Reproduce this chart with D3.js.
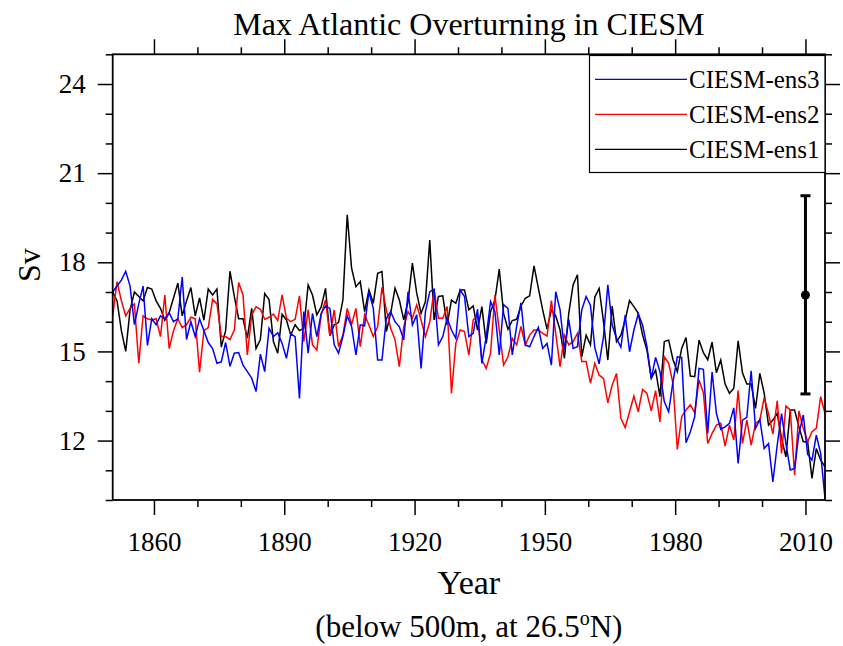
<!DOCTYPE html>
<html>
<head>
<meta charset="utf-8">
<script src="https://cdn.jsdelivr.net/npm/d3@7"></script>
<style>
  html, body { margin: 0; padding: 0; background: #fff; }
  svg { display: block; font-family: "Liberation Serif", "DejaVu Serif", serif; }
</style>
</head>
<body>
<svg id="chart" width="843" height="646"></svg>
<script>
// ---------------- data ----------------
const startYear = 1850;
const endYear = 2014;
const seriesNames = ["CIESM-ens1", "CIESM-ens2", "CIESM-ens3"];
const seriesColors = ["#000000", "#ff0000", "#0000ff"];

const ens1 = [
  17.0, 16.7, 15.7, 15.0, 16.4, 17.0, 16.85, 16.7, 17.15, 17.1,
  16.7, 16.45, 16.05, 16.3, 16.8, 17.3, 16.2, 16.7, 17.15, 16.2,
  16.8, 16.05, 17.1, 16.9, 17.1, 15.15, 15.7, 17.7, 16.85, 16.1,
  16.1, 15.45, 16.45, 15.1, 15.4, 16.95, 16.75, 15.33, 14.94, 16.25,
  16.06, 15.55, 15.9, 15.7, 15.78, 17.24, 16.9, 16.23, 16.5, 17.12,
  15.52, 15.9, 15.97, 16.73, 19.6, 17.8, 17.18, 17.35, 16.34, 17.07,
  16.62, 17.63, 17.69, 15.67, 16.28, 17.13, 16.73, 16.06, 16.68, 17.97,
  16.96, 16.28, 16.68, 18.75, 16.06, 16.85, 16.87, 15.89, 16.73, 16.62,
  17.07, 17.07, 16.4, 16.53, 15.72, 16.51, 15.27, 16.34, 16.73, 17.77,
  16.28, 15.75, 16.04, 16.08, 16.53, 16.79, 16.87, 17.88, 17.13, 16.4,
  15.75, 16.4, 16.2, 15.72, 14.77, 16.28, 17.24, 17.58, 14.82, 15.55,
  15.22, 16.83, 17.12, 16.0, 14.71, 16.53, 15.33, 15.55, 16.06, 16.71,
  16.51, 16.28, 15.55, 15.05, 14.09, 14.37, 13.48, 15.33, 15.38, 14.73,
  14.32, 15.1, 15.47, 14.17, 14.15, 15.38, 14.96, 14.72, 15.31, 14.28,
  14.71, 13.9, 13.59, 13.76, 15.36, 14.28, 13.9, 13.9, 13.08, 14.26,
  13.59, 12.52, 12.69, 12.91, 12.07, 11.45, 13.03, 13.03, 12.46, 11.96,
  11.96, 10.73, 11.73, 11.34, 11.12
];
const ens2 = [
  16.2, 17.35, 16.7, 16.2, 16.45, 16.6, 14.6, 16.2, 16.1, 16.06,
  16.1, 15.5, 16.9, 15.1, 15.7, 16.1, 15.8, 15.9, 16.15, 16.1,
  14.3, 15.7, 15.8, 16.75, 16.6, 15.5, 15.5, 15.4, 15.72, 17.32,
  16.9, 14.88, 16.23, 16.5, 16.42, 16.08, 16.15, 16.26, 16.04, 16.9,
  16.12, 16.0, 16.08, 16.87, 15.33, 16.4, 15.22, 15.05, 16.23, 16.73,
  15.52, 16.4, 15.16, 15.55, 16.45, 15.9, 16.45, 15.16, 16.23, 15.89,
  15.5, 15.83, 17.16, 16.4, 15.78, 15.39, 14.49, 15.83, 16.34, 16.12,
  16.57, 16.06, 15.5, 16.0, 17.07, 16.12, 16.12, 16.51, 13.59, 15.27,
  15.72, 15.67, 14.88, 16.06, 16.2, 14.71, 14.43, 14.94, 16.9, 15.72,
  14.54, 14.82, 15.44, 15.22, 15.84, 15.22, 15.55, 15.72, 15.72, 15.61,
  15.52, 16.71, 15.61, 14.49, 15.55, 15.22, 15.33, 15.61, 14.66, 14.66,
  13.93, 14.6, 14.2, 14.09, 13.27, 13.87, 14.26, 12.75, 12.44, 12.97,
  13.5, 12.97, 13.72, 13.59, 13.0, 13.68, 12.63, 14.82, 14.6, 13.92,
  11.7, 12.8, 13.03, 13.2, 12.94, 14.04, 13.61, 11.9, 12.24, 12.52,
  12.58, 11.81, 12.52, 12.02, 13.68, 11.9, 12.69, 11.85, 12.58, 12.69,
  13.45, 12.9, 12.22, 13.34, 11.57, 13.16, 13.03, 10.84, 13.0, 12.41,
  11.96, 12.3, 12.41, 13.48, 12.91
];
const ens3 = [
  17.0, 17.2, 17.4, 17.7, 17.2, 15.9, 16.6, 17.2, 15.2, 16.1,
  15.9, 16.2, 16.1, 16.3, 16.0, 16.1, 17.5, 15.4, 16.0, 15.5,
  16.1, 15.7, 15.3, 15.1, 14.6, 14.65, 15.3, 14.5, 14.94, 14.96,
  14.54, 14.32, 14.1, 13.65, 14.91, 14.32, 15.78, 15.5, 15.63, 15.27,
  14.77, 15.59, 15.5, 13.42, 16.34, 14.94, 16.28, 15.5, 16.28, 16.53,
  16.45, 15.22, 14.94, 15.5, 16.2, 15.84, 14.88, 15.89, 15.86, 17.01,
  16.45, 14.71, 14.71, 16.12, 16.34, 16.0, 15.83, 15.39, 17.01, 15.89,
  16.23, 14.43, 16.34, 17.01, 17.09, 15.22, 15.5, 16.12, 15.72, 15.44,
  17.07, 16.85, 15.5, 15.61, 16.42, 14.6, 15.5, 16.68, 16.34, 14.88,
  16.57, 16.45, 14.88, 15.84, 16.64, 15.22, 15.16, 15.5, 15.81, 15.1,
  15.27, 14.54, 17.01, 16.4, 15.05, 16.08, 15.1, 15.16, 16.4, 16.85,
  16.55, 15.13, 14.58, 15.5, 17.24, 15.89, 15.44, 15.14, 16.22, 14.99,
  15.72, 16.26, 15.89, 15.16, 14.09, 14.8, 14.32, 13.31, 12.97, 13.98,
  14.82, 14.8, 11.93, 12.3, 12.8, 14.43, 14.4, 12.24, 14.31, 12.91,
  12.38, 12.46, 12.58, 13.1, 11.23, 12.69, 12.78, 14.35, 12.41, 12.71,
  11.73, 11.9, 10.61, 11.85, 12.91, 11.9, 11.01, 11.06, 12.24, 12.86,
  11.54, 11.34, 12.18, 11.57, 10.05
];

const xMajorTicks = [1860, 1890, 1920, 1950, 1980, 2010];
const xMinorTicks = [1870, 1880, 1900, 1910, 1930, 1940, 1960, 1970, 1990, 2000];
const yMajorTicks = [12, 15, 18, 21, 24];
const yMinorTicks = [10, 11, 13, 14, 16, 17, 19, 20, 22, 23, 25];

// observational estimate (mean and range)
const obsYear = [2010];
const obsMean = [16.9];
const obsLow = [13.57];
const obsHigh = [20.24];

const titleText = "Max Atlantic Overturning in CIESM";
const xLabelText = "Year";
const yLabelText = "Sv";

// ---------------- layout ----------------
const svg = d3.select("#chart");
const L = 112.7, R = 825, T = 54.3, B = 500;

const x = d3.scaleLinear().domain([startYear + 0.5, endYear + 0.5]).range([L, R]);
const y = d3.scaleLinear().domain([10, 25]).range([B, T]);

const years = d3.range(startYear, endYear + 1);
const allSeries = [ens1, ens2, ens3];

// data lines
const line = d3.line()
  .x(d => x(d.year + 0.5))
  .y(d => y(d.v));

const g = svg.append("g");
allSeries.forEach((s, i) => {
  const pts = years.map((yr, k) => ({ year: yr, v: s[k] }));
  g.append("path")
    .datum(pts)
    .attr("fill", "none")
    .attr("stroke", seriesColors[i])
    .attr("stroke-width", 1.5)
    .attr("stroke-linejoin", "miter")
    .attr("d", line);
});

// axes
const axisColor = "#000";
function styleAxis(sel) {
  sel.select(".domain").remove();
  sel.selectAll(".tick line").attr("stroke", axisColor).attr("stroke-width", 1.5);
  sel.selectAll("text").attr("font-family", "'Liberation Serif', serif").attr("fill", "#000");
}

// bottom
svg.append("g").attr("transform", `translate(0,${B})`)
  .call(d3.axisBottom(x).tickValues(xMajorTicks).tickSize(15).tickPadding(17).tickFormat(d3.format("d")))
  .call(styleAxis)
  .call(s => s.selectAll("text").attr("font-size", 27));
svg.append("g").attr("transform", `translate(0,${B})`)
  .call(d3.axisBottom(x).tickValues(xMinorTicks).tickSize(7).tickFormat(""))
  .call(styleAxis);
// top
svg.append("g").attr("transform", `translate(0,${T})`)
  .call(d3.axisTop(x).tickValues(xMajorTicks).tickSize(15).tickFormat(""))
  .call(styleAxis);
svg.append("g").attr("transform", `translate(0,${T})`)
  .call(d3.axisTop(x).tickValues(xMinorTicks).tickSize(7).tickFormat(""))
  .call(styleAxis);
// left
svg.append("g").attr("transform", `translate(${L},0)`)
  .call(d3.axisLeft(y).tickValues(yMajorTicks).tickSize(15).tickPadding(12).tickFormat(d3.format("d")))
  .call(styleAxis)
  .call(s => s.selectAll("text").attr("font-size", 27));
svg.append("g").attr("transform", `translate(${L},0)`)
  .call(d3.axisLeft(y).tickValues(yMinorTicks).tickSize(7).tickFormat(""))
  .call(styleAxis);
// right
svg.append("g").attr("transform", `translate(${R},0)`)
  .call(d3.axisRight(y).tickValues(yMajorTicks).tickSize(15).tickFormat(""))
  .call(styleAxis);
svg.append("g").attr("transform", `translate(${R},0)`)
  .call(d3.axisRight(y).tickValues(yMinorTicks).tickSize(7).tickFormat(""))
  .call(styleAxis);

// frame
svg.append("rect")
  .attr("x", L).attr("y", T).attr("width", R - L).attr("height", B - T)
  .attr("fill", "none").attr("stroke", "#000").attr("stroke-width", 1.8);

// observational error bar
const obs = obsYear.map((yr, i) => ({ year: yr, m: obsMean[i], lo: obsLow[i], hi: obsHigh[i] }));
const eb = svg.append("g");
obs.forEach(o => {
  const cx = x(o.year);
  eb.append("line").attr("x1", cx).attr("x2", cx).attr("y1", y(o.lo)).attr("y2", y(o.hi))
    .attr("stroke", "#000").attr("stroke-width", 3);
  [o.lo, o.hi].forEach(v => {
    eb.append("line").attr("x1", cx - 5).attr("x2", cx + 5).attr("y1", y(v)).attr("y2", y(v))
      .attr("stroke", "#000").attr("stroke-width", 3);
  });
  eb.append("circle").attr("cx", cx).attr("cy", y(o.m)).attr("r", 4.5).attr("fill", "#000");
});

// legend (order: ens3, ens2, ens1)
const legend = svg.append("g");
legend.append("rect")
  .attr("x", 589.5).attr("y", 55.5).attr("width", R - 589.5).attr("height", 117)
  .attr("fill", "#fff").attr("stroke", "#000").attr("stroke-width", 1.2);
const legOrder = [2, 1, 0];
legOrder.forEach((si, r) => {
  const ly = 79.3 + r * 35;
  legend.append("line").attr("x1", 595).attr("x2", 687).attr("y1", ly).attr("y2", ly)
    .attr("stroke", seriesColors[si]).attr("stroke-width", 1.2);
  legend.append("text").attr("x", 689).attr("y", ly + 8.5)
    .attr("font-size", 25).attr("fill", "#000").text(seriesNames[si]);
});

// titles
svg.append("text").attr("x", (L + R) / 2).attr("y", 35).attr("text-anchor", "middle")
  .attr("font-size", 32).text(titleText);
svg.append("text").attr("x", (L + R) / 2).attr("y", 594).attr("text-anchor", "middle")
  .attr("font-size", 34).text(xLabelText);
const sub = svg.append("text").attr("x", (L + R) / 2).attr("y", 637).attr("text-anchor", "middle")
  .attr("font-size", 31);
sub.append("tspan").text("(below 500m, at 26.5");
sub.append("tspan").attr("font-size", 20).attr("dy", -12).text("o");
sub.append("tspan").attr("dy", 12).text("N)");
svg.append("text").attr("transform", `translate(40,${(T + B) / 2 - 12}) rotate(-90)`)
  .attr("text-anchor", "middle").attr("font-size", 32).text(yLabelText);
</script>
</body>
</html>
